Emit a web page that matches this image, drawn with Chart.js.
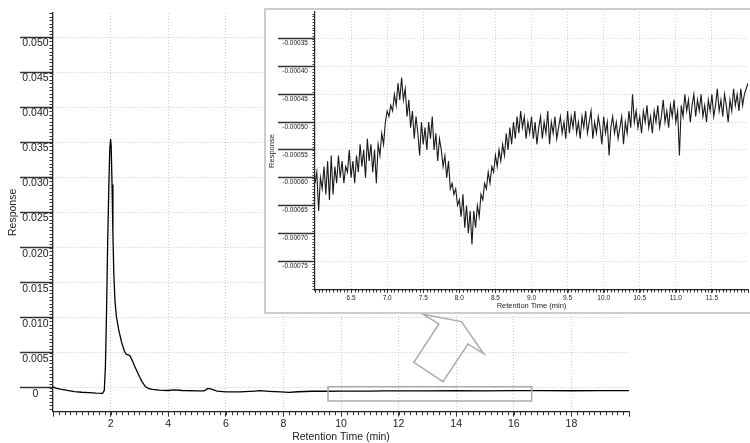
<!DOCTYPE html>
<html><head><meta charset="utf-8">
<script src="https://cdn.jsdelivr.net/npm/chart.js@4.4.0/dist/chart.umd.min.js"></script>
<style>
html,body{margin:0;padding:0;background:#fff;width:750px;height:443px;overflow:hidden;position:relative;}
#main{position:absolute;left:0;top:0;width:750px;height:443px;}
#insetBox{position:absolute;left:264px;top:8px;width:492px;height:302px;border:2px solid #cdcdcd;background:#fff;}
#inset{position:absolute;left:0;top:0;width:484px;height:302px;}
</style></head>
<body>
<canvas id="main" width="750" height="443"></canvas>
<div id="insetBox"><canvas id="inset" width="484" height="302"></canvas></div>
<script>
// ---------- data ----------
const mainTime = [0.00,0.10,0.25,0.50,0.75,1.00,1.25,1.50,1.72,1.78,1.82,1.86,1.90,1.94,1.97,2.00,2.02,2.05,2.08,2.11,2.15,2.20,2.28,2.38,2.48,2.55,2.62,2.68,2.75,2.82,2.90,3.00,3.10,3.20,3.30,3.45,3.70,4.00,4.20,4.50,5.00,5.25,5.38,5.50,5.70,6.00,6.50,7.00,7.20,7.50,7.90,8.20,8.50,9.00,9.50,10.00,10.50,11.00,11.50,12.00,13.00,14.00,15.00,16.00,17.00,18.00,19.00,20.00];
const mainResponse = [0.00010,-0.00005,-0.00020,-0.00040,-0.00055,-0.00065,-0.00072,-0.00078,-0.00080,-0.00040,0.00300,0.01100,0.02100,0.02900,0.03400,0.03550,0.03450,0.02900,0.02200,0.01650,0.01250,0.01020,0.00830,0.00650,0.00520,0.00475,0.00470,0.00450,0.00390,0.00320,0.00250,0.00160,0.00080,0.00020,-0.00010,-0.00025,-0.00035,-0.00040,-0.00030,-0.00040,-0.00045,-0.00045,-0.00010,-0.00020,-0.00050,-0.00060,-0.00059,-0.00048,-0.00043,-0.00052,-0.00061,-0.00068,-0.00058,-0.00051,-0.00051,-0.00050,-0.00049,-0.00048,-0.00047,-0.00045,-0.00046,-0.00044,-0.00045,-0.00043,-0.00042,-0.00044,-0.00042,-0.00043];
const mainXTicks = [2,4,6,8,10,12,14,16,18];
const mainYTicks = [0,0.005,0.010,0.015,0.020,0.025,0.030,0.035,0.040,0.045,0.050];

// inset: sampled every 0.025 min from 6.0 to 12.0
const insetStart = 6.0;
const insetStep = 0.025;
const insetResponse = [
-61e-5,-59e-5,-66e-5,-60e-5,-62e-5,-58e-5,-63e-5,-57e-5,-64e-5,-56e-5,
-63e-5,-58e-5,-61e-5,-56e-5,-60e-5,-57e-5,-61e-5,-58e-5,-59e-5,-55e-5,
-60e-5,-57e-5,-61e-5,-56e-5,-59e-5,-54e-5,-58e-5,-55e-5,-60e-5,-53e-5,
-57e-5,-54e-5,-59e-5,-55e-5,-61e-5,-54e-5,-56e-5,-52e-5,-54e-5,-50e-5,
-48e-5,-49e-5,-47e-5,-48e-5,-45e-5,-47e-5,-43e-5,-46e-5,-42e-5,-46e-5,
-44e-5,-49e-5,-46e-5,-51e-5,-48e-5,-53e-5,-49e-5,-52e-5,-56e-5,-50e-5,
-54e-5,-51e-5,-55e-5,-50e-5,-53e-5,-49e-5,-55e-5,-52e-5,-57e-5,-53e-5,
-55e-5,-58e-5,-56e-5,-60e-5,-57e-5,-62e-5,-61e-5,-63e-5,-62e-5,-65e-5,
-64e-5,-67e-5,-63e-5,-69e-5,-65e-5,-70e-5,-66e-5,-72e-5,-66e-5,-69e-5,
-65e-5,-67e-5,-63e-5,-64e-5,-61e-5,-62e-5,-59e-5,-61e-5,-58e-5,-59e-5,
-56e-5,-58e-5,-55e-5,-57e-5,-54e-5,-56e-5,-52e-5,-55e-5,-51e-5,-54e-5,
-50e-5,-53e-5,-49e-5,-52e-5,-48e-5,-51e-5,-49e-5,-53e-5,-50e-5,-52e-5,
-49e-5,-53e-5,-50e-5,-54e-5,-51e-5,-49e-5,-53e-5,-50e-5,-52e-5,-48e-5,
-54e-5,-50e-5,-52e-5,-49e-5,-53e-5,-51e-5,-49e-5,-52e-5,-50e-5,-53e-5,
-48e-5,-52e-5,-49e-5,-51e-5,-48e-5,-52e-5,-50e-5,-53e-5,-49e-5,-51e-5,
-48e-5,-52e-5,-50e-5,-48e-5,-53e-5,-50e-5,-52e-5,-49e-5,-51e-5,-54e-5,
-49e-5,-52e-5,-50e-5,-56e-5,-51e-5,-49e-5,-52e-5,-50e-5,-53e-5,-51e-5,
-49e-5,-54e-5,-50e-5,-52e-5,-48e-5,-51e-5,-45e-5,-50e-5,-48e-5,-51e-5,
-49e-5,-52e-5,-48e-5,-50e-5,-47e-5,-51e-5,-49e-5,-52e-5,-48e-5,-50e-5,
-47e-5,-51e-5,-49e-5,-46e-5,-50e-5,-48e-5,-51e-5,-47e-5,-49e-5,-46e-5,
-50e-5,-48e-5,-56e-5,-47e-5,-49e-5,-45e-5,-48e-5,-46e-5,-50e-5,-47e-5,
-45e-5,-49e-5,-46e-5,-48e-5,-45e-5,-49e-5,-47e-5,-50e-5,-46e-5,-48e-5,
-45e-5,-49e-5,-47e-5,-44e-5,-48e-5,-46e-5,-49e-5,-45e-5,-47e-5,-50e-5,
-46e-5,-48e-5,-44e-5,-47e-5,-45e-5,-48e-5,-44e-5,-47e-5,-45e-5,-44e-5,
-43e-5];
const insetXTicks = [6.5,7.0,7.5,8.0,8.5,9.0,9.5,10.0,10.5,11.0,11.5];
const insetYTicks = [-0.00075,-0.00070,-0.00065,-0.00060,-0.00055,-0.00050,-0.00045,-0.00040,-0.00035];

// zoom box and arrow annotation (in main-chart data units)
const zoomBox = {x0: 9.55, x1: 16.62, y0: 0.00014, y1: -0.0019};
const arrowOutline = [[12.84,0.01049],[14.18,0.00943],[14.96,0.00481],[14.41,0.00624],[13.54,0.00086],[12.53,0.00363],[13.40,0.0091]];

// ---------- build ----------
const mainPoints = mainTime.map((t, i) => ({x: t, y: mainResponse[i]}));
const insetPoints = insetResponse.map((v, i) => ({x: insetStart + i * insetStep, y: v}));

Chart.defaults.font.family = "'Liberation Sans', Arial, Helvetica, sans-serif";
Chart.defaults.color = '#222';

const minorTicks = {
  id: 'minorTicks',
  afterDraw(chart, args, o) {
    const ctx = chart.ctx, xs = chart.scales.x, ys = chart.scales.y;
    ctx.save();
    ctx.strokeStyle = o.color; ctx.lineWidth = 1;
    ctx.beginPath();
    const nx = Math.round((xs.max - xs.min) / o.xStep);
    for (let k = 0; k <= nx; k++) {
      const px = Math.round(xs.getPixelForValue(xs.min + k * o.xStep)) + 0.5;
      ctx.moveTo(px, xs.top); ctx.lineTo(px, xs.top + o.xLen);
    }
    const k0 = Math.ceil(ys.min / o.yStep - 1e-6), k1 = Math.floor(ys.max / o.yStep + 1e-6);
    for (let k = k0; k <= k1; k++) {
      const py = Math.round(ys.getPixelForValue(k * o.yStep)) + 0.5;
      ctx.moveTo(ys.right, py); ctx.lineTo(ys.right - o.yLen, py);
    }
    ctx.stroke();
    ctx.restore();
  }
};

const annot = {
  id: 'annot',
  afterDatasetsDraw(chart) {
    const ctx = chart.ctx, xs = chart.scales.x, ys = chart.scales.y;
    ctx.save();
    ctx.strokeStyle = '#ababab'; ctx.lineWidth = 1.5;
    const x0 = xs.getPixelForValue(zoomBox.x0), x1 = xs.getPixelForValue(zoomBox.x1);
    const y0 = ys.getPixelForValue(zoomBox.y0), y1 = ys.getPixelForValue(zoomBox.y1);
    ctx.strokeRect(x0, y0, x1 - x0, y1 - y0);
    ctx.beginPath();
    arrowOutline.forEach((p, i) => {
      const px = xs.getPixelForValue(p[0]), py = ys.getPixelForValue(p[1]);
      if (i === 0) ctx.moveTo(px, py); else ctx.lineTo(px, py);
    });
    ctx.closePath();
    ctx.stroke();
    ctx.restore();
  }
};

const gridCol = '#c9c9c9';

new Chart(document.getElementById('main'), {
  type: 'scatter',
  data: {datasets: [{data: mainPoints, showLine: true, borderColor: '#000', borderWidth: 1.3, pointRadius: 0, tension: 0}]},
  options: {
    responsive: false, animation: false,
    layout: {padding: {left: 0, top: 13, right: 121, bottom: 0}},
    plugins: {legend: {display: false}, tooltip: {enabled: false},
      minorTicks: {color: '#333', xStep: 0.2, xLen: 3.5, yStep: 0.0005, yLen: 3.5}},
    scales: {
      x: {
        type: 'linear', min: 0, max: 20,
        afterFit(s) { s.height = 31.3; },
        afterBuildTicks(s) { s.ticks = [0].concat(mainXTicks, [20]).map(v => ({value: v})); },
        ticks: {autoSkip: false, maxRotation: 0, padding: 1.5, font: {size: 10.5},
          callback: v => mainXTicks.includes(v) ? String(v) : ''},
        grid: {color: c => (c.tick && mainXTicks.includes(c.tick.value)) ? gridCol : 'rgba(0,0,0,0)',
          tickColor: '#333', tickLength: 5, tickWidth: 1},
        border: {color: '#222', width: 1.3, dash: [1, 2]},
        title: {display: true, text: 'Retention Time (min)', font: {size: 10.5}, padding: {top: 0, bottom: 0}}
      },
      y: {
        type: 'linear', min: -0.00343, max: 0.0535,
        afterFit(s) { s.width = 53; },
        afterBuildTicks(s) { s.ticks = mainYTicks.map(v => ({value: v})); },
        ticks: {autoSkip: false, crossAlign: 'center', padding: -28.6, labelOffset: 6,
          font: {size: 10.5}, callback: v => v === 0 ? '0' : v.toFixed(3)},
        grid: {color: gridCol, tickColor: '#333', tickLength: 33, tickWidth: 1.5},
        border: {color: '#222', width: 1.3, dash: [1, 2]},
        title: {display: true, text: 'Response', font: {size: 10.5}, padding: {top: 7, bottom: 0}}
      }
    }
  },
  plugins: [minorTicks, annot]
});

new Chart(document.getElementById('inset'), {
  type: 'scatter',
  data: {datasets: [{data: insetPoints, showLine: true, borderColor: '#1a1a1a', borderWidth: 1.1, pointRadius: 0, tension: 0}]},
  options: {
    responsive: false, animation: false,
    layout: {padding: {left: 0, top: 2, right: 2, bottom: 0}},
    plugins: {legend: {display: false}, tooltip: {enabled: false},
      minorTicks: {color: '#333', xStep: 0.05, xLen: 2.5, yStep: 0.000005, yLen: 2.5}},
    scales: {
      x: {
        type: 'linear', min: 6, max: 12,
        afterFit(s) { s.height = 22; },
        afterBuildTicks(s) { s.ticks = [6].concat(insetXTicks, [12]).map(v => ({value: v})); },
        ticks: {autoSkip: false, maxRotation: 0, padding: 1, font: {size: 6.5},
          callback: v => insetXTicks.includes(v) ? v.toFixed(1) : ''},
        grid: {color: c => (c.tick && insetXTicks.includes(c.tick.value)) ? '#d0d0d0' : 'rgba(0,0,0,0)',
          tickColor: '#333', tickLength: 3, tickWidth: 1},
        border: {color: '#222', width: 1.2, dash: [1, 2]},
        title: {display: true, text: 'Retention Time (min)', font: {size: 7.5}, padding: {top: 0, bottom: 1.5}}
      },
      y: {
        type: 'linear', min: -0.000802, max: -0.000302,
        afterFit(s) { s.width = 49; },
        afterBuildTicks(s) { s.ticks = insetYTicks.map(v => ({value: v})); },
        ticks: {autoSkip: false, crossAlign: 'center', padding: -29.9, labelOffset: 5,
          font: {size: 6.5}, callback: v => v.toFixed(5)},
        grid: {color: '#d0d0d0', tickColor: '#333', tickLength: 37, tickWidth: 1.3},
        border: {color: '#222', width: 1.2, dash: [1, 2]},
        title: {display: true, text: 'Response', font: {size: 7.5}, padding: {top: 1, bottom: 0}}
      }
    }
  },
  plugins: [minorTicks]
});
</script>
</body></html>
